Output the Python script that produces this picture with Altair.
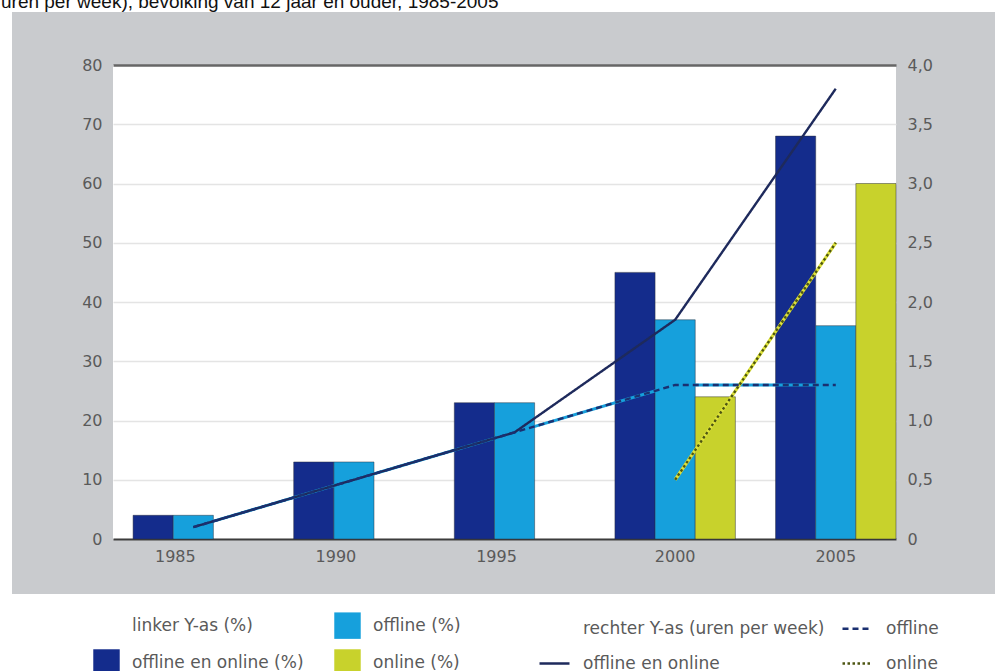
import altair as alt
import pandas as pd

# ---- data ----
years = ["1985", "1990", "1995", "2000", "2005"]

# left axis: percentages (bars)
pct_both = [4, 13, 23, 45, 68]
pct_offline = [4, 13, 23, 37, 36]
pct_online = [None, None, None, 24, 60]

# right axis: hours per week (lines)
hrs_both = [0.1, 0.5, 0.9, 1.85, 3.8]
hrs_offline = [0.1, 0.5, 0.9, 1.3, 1.3]
hrs_online = [None, None, None, 0.5, 2.5]

bar_series = ["offline en online (%)", "offline (%)", "online (%)"]
line_series = ["offline en online", "offline", "online"]
left_heading = "linker Y-as (%)"
right_heading = "rechter Y-as (uren per week)"
title_text = "uren per week), bevolking van 12 jaar en ouder, 1985-2005"

left_ticks = [0, 10, 20, 30, 40, 50, 60, 70, 80]
right_ticks = [0, 0.5, 1.0, 1.5, 2.0, 2.5, 3.0, 3.5, 4.0]

# ---- tables ----
bar_rows = []
for s, vals in zip(bar_series, [pct_both, pct_offline, pct_online]):
    for y, v in zip(years, vals):
        if v is not None:
            bar_rows.append({"year": y, "series": s, "pct": v})
bars_df = pd.DataFrame(bar_rows)

line_rows = []
for s, vals in zip(line_series, [hrs_both, hrs_offline, hrs_online]):
    for y, v in zip(years, vals):
        if v is not None:
            line_rows.append({"year": y, "series": s, "hours": v})
lines_df = pd.DataFrame(line_rows)

# ---- style ----
W, H = 783, 474
FONT = "DejaVu Sans"
TXT = "#5a5a5a"
DARK = "#142c8c"
LIGHT = "#16a0dc"
YELLOW = "#c8d22c"
NAVY_LINE = "#1e2a5c"
OFF_DASH = "#1b3070"
ON_DOT = "#4d5512"
WHITE = "#ffffff"

x_scale = alt.Scale(type="band", domain=years, paddingInner=0.25,
                    paddingOuter=0.0625, align=1)
x_axis = alt.Axis(title=None, labelAngle=0, ticks=False, grid=False,
                  domainColor="#3c3c3c", domainWidth=2,
                  labelFont=FONT, labelFontSize=16, labelColor=TXT,
                  labelPadding=9,
                  labelOffset={"condition": {"test": "toNumber(datum.value) < 2000",
                                             "value": -18}, "value": 0})

def xenc():
    return alt.X("year:N", sort=years, scale=x_scale, axis=x_axis)

# ---- decorative white margins around the grey panel, and the cut-off heading ----
deco_src = alt.Chart(pd.DataFrame({"k": [0]}))
strip_left = deco_src.mark_rect(color=WHITE).encode(
    x=alt.value(-113), x2=alt.value(-101), y=alt.value(-65), y2=alt.value(606))
strip_top = deco_src.mark_rect(color=WHITE).encode(
    x=alt.value(-113), x2=alt.value(882), y=alt.value(-65), y2=alt.value(-53))
strip_bottom = deco_src.mark_rect(color=WHITE).encode(
    x=alt.value(-113), x2=alt.value(882), y=alt.value(529), y2=alt.value(606))
heading = deco_src.mark_text(align="left", baseline="alphabetic",
                             font="Liberation Sans", fontSize=19,
                             color="#111111").encode(
    x=alt.value(-112), y=alt.value(-57), text=alt.value(title_text))

# ---- bars ----
fill_legend = alt.Legend(title=None, orient="none", legendX=-20, legendY=547,
                         columns=2, columnPadding=30, rowPadding=10,
                         symbolType="square", symbolSize=700, symbolStrokeWidth=0,
                         labelFont=FONT, labelFontSize=17, labelColor=TXT,
                         labelOffset=12, labelLimit=400)

bars = alt.Chart(bars_df).mark_bar(stroke="#2a2f3a", strokeWidth=0.8,
                                   strokeOpacity=0.6).encode(
    x=xenc(),
    xOffset=alt.XOffset("series:N", sort=bar_series,
                        scale=alt.Scale(domain=bar_series)),
    y=alt.Y("pct:Q", scale=alt.Scale(domain=[0, 80], nice=False),
            axis=alt.Axis(title=None, orient="left", values=left_ticks,
                          domain=False, ticks=False, labelPadding=11,
                          labelFont=FONT, labelFontSize=16, labelColor=TXT,
                          gridColor={"condition": {"test": "datum.value == 80",
                                                   "value": "#666666"},
                                     "value": "#e4e4e4"},
                          gridWidth={"condition": {"test": "datum.value == 80",
                                                   "value": 2.5},
                                     "value": 1.5})),
    fill=alt.Fill("series:N",
                  scale=alt.Scale(domain=[left_heading, "offline en online (%)",
                                          "offline (%)", "online (%)"],
                                  range=["transparent", DARK, LIGHT, YELLOW]),
                  legend=fill_legend),
)

# ---- lines (right axis) ----
y_right = alt.Y("hours:Q", scale=alt.Scale(domain=[0, 4], nice=False),
                axis=alt.Axis(title=None, orient="right", values=right_ticks,
                              domain=False, ticks=False, grid=False,
                              labelPadding=11, labelFont=FONT, labelFontSize=16,
                              labelColor=TXT,
                              labelExpr="datum.value == 0 ? '0' : replace(format(datum.value, '.1f'), '.', ',')"))

under_off = alt.Chart(lines_df).transform_filter(
    alt.datum.series == "offline").mark_line(
    color=LIGHT, strokeWidth=3).encode(x=xenc(), y=y_right)
under_on = alt.Chart(lines_df).transform_filter(
    alt.datum.series == "online").mark_line(
    color="#dde23a", strokeWidth=3.2).encode(x=xenc(), y=y_right)

line_domain = [right_heading, "offline en online", "offline", "online"]
line_legend = alt.Legend(title=None, orient="none", legendX=425, legendY=547,
                         columns=2, columnPadding=12, rowPadding=10,
                         symbolSize=900, symbolStrokeWidth=2.5,
                         labelFont=FONT, labelFontSize=17, labelColor=TXT,
                         labelOffset=12, labelLimit=400)
over = alt.Chart(lines_df).mark_line(strokeWidth=2.4).encode(
    x=xenc(),
    y=y_right,
    stroke=alt.Stroke("series:N",
                      scale=alt.Scale(domain=line_domain,
                                      range=["transparent", NAVY_LINE, OFF_DASH, ON_DOT]),
                      legend=line_legend),
    strokeDash=alt.StrokeDash("series:N",
                              scale=alt.Scale(domain=line_domain,
                                              range=[[1, 0], [1, 0], [6, 4], [2.5, 2.5]]),
                              legend=line_legend),
)

lines = alt.layer(under_off, under_on, over)

chart = alt.layer(strip_left, strip_top, strip_bottom, bars, lines, heading).resolve_scale(
    y="independent"
).properties(
    width=W, height=H,
    autosize=alt.AutoSizeParams(type="none"),
    padding={"left": 113, "top": 65, "right": 99, "bottom": 132},
    background="#c9cbce",
).configure_view(fill=WHITE, strokeWidth=0)

chart.save("out.html", embed_options={"renderer": "svg", "actions": False})
